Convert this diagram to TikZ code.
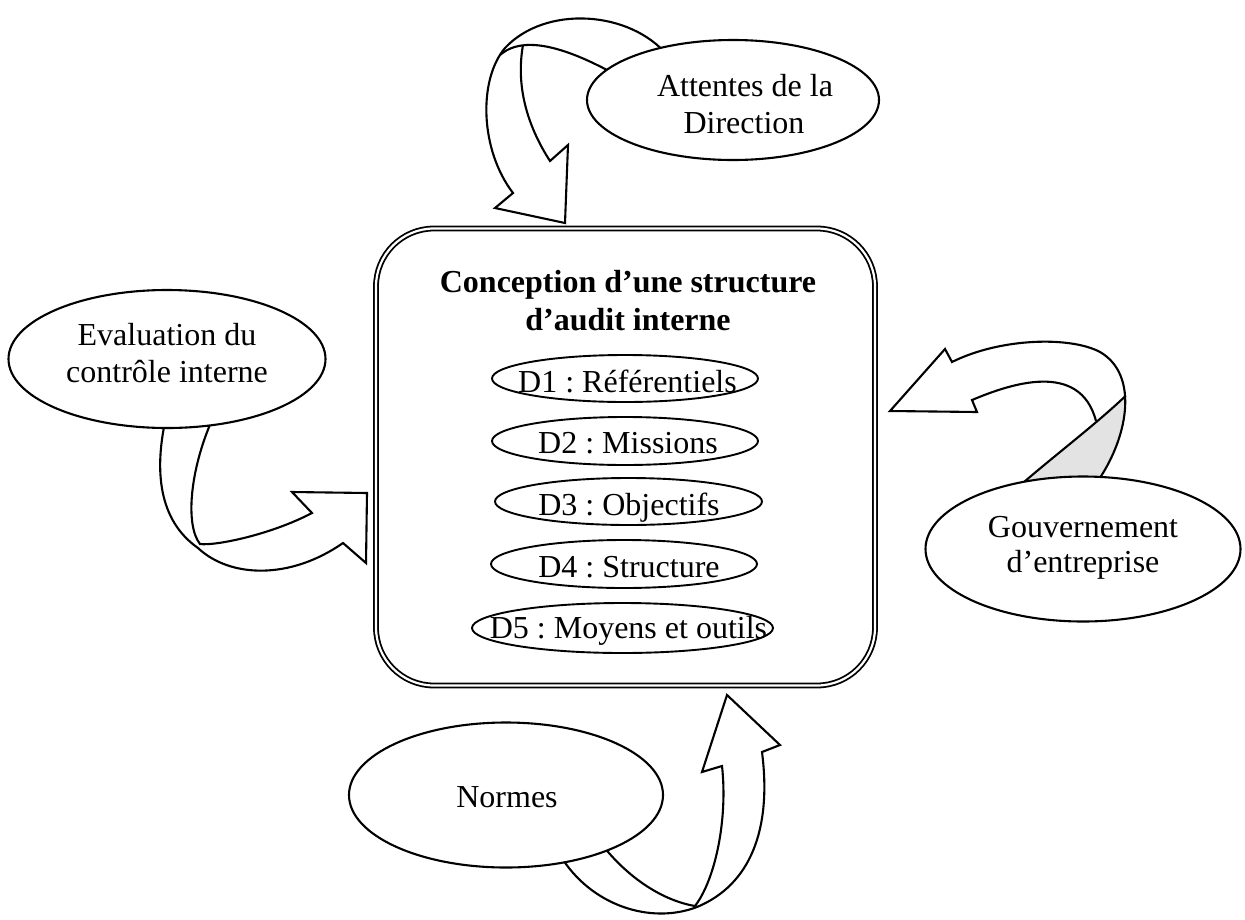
\documentclass[tikz,border=0pt]{standalone}
\usepackage{fontspec}
\setmainfont{Liberation Serif}
\usetikzlibrary{shapes.geometric}
\frenchspacing
\begin{document}
\begin{tikzpicture}[x=1pt,y=-1pt,
  line width=2.1pt,
  bubble/.style={draw, ellipse, fill=white, inner sep=0pt, line width=2.1pt},
  tag/.style={draw, ellipse, inner sep=0pt, line width=1.9pt},
  txt/.style={anchor=base, inner sep=0pt, font=\fontsize{32}{37}\selectfont},
  ttl/.style={txt, font=\fontsize{32}{37}\selectfont\bfseries},
  ribbon/.style={draw, line join=miter, line width=2.1pt},
  backside/.style={fill=gray!22, draw=none},
]
\useasboundingbox (0,0) rectangle (1245,919);

% ---- curved ribbon arrows (drawn first, the bubbles cover their roots)
% from "Attentes de la Direction"
\path[ribbon] (668,56) .. controls (630,10) and (545,5) .. (505,48)
  .. controls (478,80) and (480,150) .. (513,193)
  -- (495,208) -- (565,223) -- (568,145) -- (550,161)
  .. controls (530,130) and (515,90) .. (523,45);
\path[ribbon] (500,55) .. controls (515,42) and (545,35) .. (618,76);

% from "Evaluation du controle interne"
\path[ribbon] (165,422) .. controls (155,470) and (158,520) .. (198,548)
  .. controls (230,578) and (290,580) .. (343,543)
  -- (366,563) -- (367,493) -- (292,492) -- (312,513)
  .. controls (270,535) and (215,546) .. (200,544)
  .. controls (185,525) and (190,470) .. (212,420);

% from "Gouvernement d'entreprise"
\path[backside] (1017,488) .. controls (1055,455) and (1095,425) .. (1125.7,395.8)
  .. controls (1127,423.8) and (1114.8,458) .. (1095,485) -- cycle;
\path[ribbon] (1095,485) .. controls (1128,440) and (1140,375) .. (1100,352)
  .. controls (1070,336) and (1000,338) .. (952,362)
  -- (945,349) -- (890,411) -- (977,412) -- (972,400)
  .. controls (1010,384) and (1080,360) .. (1096,421);
\path[ribbon] (1017,488) .. controls (1055,455) and (1095,425) .. (1125.7,395.8);

% from "Normes"
\path[ribbon] (560,855) .. controls (590,905) and (650,925) .. (697,907)
  .. controls (750,885) and (772,830) .. (762,752)
  -- (780,745) -- (727,695) -- (702,772) -- (722,766)
  .. controls (728,820) and (715,880) .. (695,906);
\path[ribbon] (600,842) .. controls (625,875) and (660,900) .. (695,906);

% ---- central framed block
\node[draw, double, double distance=2.2pt, line width=1.8pt,
      rounded corners=58pt, minimum width=499pt, minimum height=457pt]
      (box) at (625.5,457) {};
\node[ttl] (title1) at (628,292) {Conception d’une structure};
\node[ttl] (title2) at (628,330) {d’audit interne};

\node[tag, minimum width=266pt, minimum height=47pt] (d1) at (625,378.5) {};
\node[tag, minimum width=266pt, minimum height=48pt] (d2) at (625,441) {};
\node[tag, minimum width=267pt, minimum height=47pt] (d3) at (628.5,501.5) {};
\node[tag, minimum width=266pt, minimum height=48pt] (d4) at (624,564) {};
\node[tag, minimum width=301pt, minimum height=50pt] (d5) at (622.5,628) {};
\node[txt] (d1t) at (627.5,392) {D1 : Référentiels};
\node[txt] (d2t) at (628,453) {D2 : Missions};
\node[txt] (d3t) at (629,515) {D3 : Objectifs};
\node[txt] (d4t) at (629,577) {D4 : Structure};
\node[txt] (d5t) at (628.5,638) {D5 : Moyens et outils};

% ---- surrounding bubbles
\node[bubble, minimum width=292pt, minimum height=120pt] (att) at (733,100) {};
\node[txt] (att1) at (745,96) {Attentes de la};
\node[txt] (att2) at (744,133) {Direction};

\node[bubble, minimum width=317pt, minimum height=138pt] (eva) at (167,359) {};
\node[txt] (eva1) at (167,345) {Evaluation du};
\node[txt] (eva2) at (167,382) {contrôle interne};

\node[bubble, minimum width=315pt, minimum height=145pt] (gov) at (1083,549) {};
\node[txt] (gov1) at (1083,537) {Gouvernement};
\node[txt] (gov2) at (1083,572) {d’entreprise};

\node[bubble, minimum width=314pt, minimum height=145pt] (nor) at (506,795) {};
\node[txt] (nor1) at (507,807) {Normes};
\end{tikzpicture}
\end{document}
